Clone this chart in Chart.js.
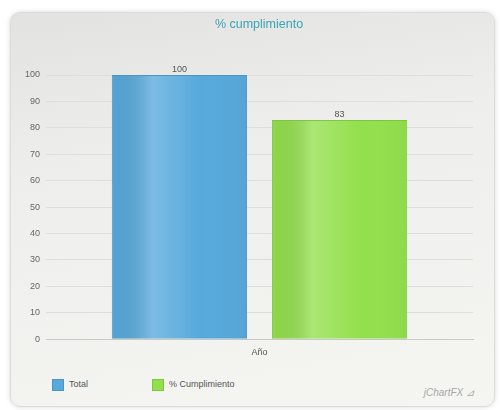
<!DOCTYPE html>
<html>
<head>
<meta charset="utf-8">
<script src="https://cdn.jsdelivr.net/npm/chart.js@4.4.0/dist/chart.umd.min.js"></script>
<style>
  body { margin: 0; background: #fff; font-family: "Liberation Sans", Arial, sans-serif; }
  .card {
    position: absolute; left: 10px; top: 12px; width: 483px; height: 393px;
    border-radius: 10px; border: 1px solid #dcdcda;
    background: linear-gradient(170deg, #e2e2e0 0%, #eeeeec 35%, #f5f5f2 100%);
    box-shadow: 0 0 5px rgba(0,0,0,0.15);
  }
  .plot { position: absolute; left: 0; top: 0; width: 483px; height: 352px; }
  .legend { position: absolute; top: 364px; left: 0; font-size: 9px; color: #555; }
  .legend span.item { position: absolute; white-space: nowrap; line-height: 14px; }
  .legend i { display: inline-block; width: 12px; height: 12px; vertical-align: middle; margin-right: 5px; box-sizing: border-box; }
  .brand { position: absolute; right: 20px; bottom: 8px; font-size: 10px; font-style: italic; color: #a8a8a8; }
</style>
</head>
<body>
<div class="card">
  <div class="plot"><canvas id="chart"></canvas></div>
  <div class="legend" id="legend"></div>
  <div class="brand">jChartFX ⊿</div>
</div>
<script>
const categories = ["Año"];
const seriesNames = ["Total", "% Cumplimiento"];
const totalValues = [100];
const cumplimientoValues = [83];
const yTicks = [0, 10, 20, 30, 40, 50, 60, 70, 80, 90, 100];

const colors = ["#57a9dc", "#93e04d"];
const borders = ["#4b94c4", "#7fc63f"];

// soft vertical highlight + value labels on top of each bar
const barDecor = {
  id: "barDecor",
  afterDatasetsDraw(chart) {
    const ctx = chart.ctx;
    chart.data.datasets.forEach((ds, di) => {
      chart.getDatasetMeta(di).data.forEach((bar, i) => {
        const left = bar.x - bar.width / 2, right = bar.x + bar.width / 2;
        const g = ctx.createLinearGradient(left, 0, right, 0);
        g.addColorStop(0, "rgba(0,0,0,0.03)");
        g.addColorStop(0.3, "rgba(255,255,255,0.22)");
        g.addColorStop(0.65, "rgba(255,255,255,0.0)");
        g.addColorStop(1, "rgba(0,0,0,0.03)");
        ctx.save();
        ctx.fillStyle = g;
        ctx.fillRect(left + 1, bar.y + 1, bar.width - 2, bar.base - bar.y - 1);
        ctx.fillStyle = "#555";
        ctx.font = "9px 'Liberation Sans', Arial, sans-serif";
        ctx.textAlign = "center";
        ctx.textBaseline = "bottom";
        ctx.fillText(ds.data[i], bar.x, bar.y - 1);
        ctx.restore();
      });
    });
  }
};

const chart = new Chart(document.getElementById("chart"), {
  type: "bar",
  data: {
    labels: categories,
    datasets: [
      { label: seriesNames[0], data: totalValues, backgroundColor: colors[0], borderColor: borders[0], borderWidth: 1 },
      { label: seriesNames[1], data: cumplimientoValues, backgroundColor: colors[1], borderColor: borders[1], borderWidth: 1 }
    ]
  },
  options: {
    responsive: true,
    maintainAspectRatio: false,
    animation: false,
    // uneven padding keeps the title centred where the original has it; an empty right axis closes the plot
    layout: { padding: { left: 13, right: 0, top: 0, bottom: 7 } },
    categoryPercentage: 0.75,
    barPercentage: 0.845,
    plugins: {
      legend: { display: false },
      tooltip: { enabled: false },
      title: {
        display: true,
        text: "% cumplimiento",
        color: "#3aa3b8",
        font: { family: "'Liberation Sans', Arial, sans-serif", size: 12.5, weight: "normal" },
        padding: { top: 4, bottom: 43 }
      }
    },
    scales: {
      x: {
        grid: { display: false },
        border: { display: true, color: "#c8c8c6" },
        ticks: { color: "#555", font: { family: "'Liberation Sans', Arial, sans-serif", size: 9 }, padding: 0 }
      },
      y: {
        min: 0,
        max: 100,
        afterBuildTicks: axis => { axis.ticks = yTicks.map(v => ({ value: v })); },
        afterFit: axis => { axis.width = 22; },
        grid: { color: "#dededc", drawTicks: false },
        border: { display: false },
        ticks: { color: "#666", font: { family: "'Liberation Sans', Arial, sans-serif", size: 9 }, padding: 6 }
      },
      y2: {
        position: "right",
        min: 0,
        max: 100,
        afterFit: axis => { axis.width = 21; },
        grid: { display: false },
        border: { display: false },
        ticks: { display: false }
      }
    }
  },
  plugins: [barDecor]
});

// legend below the plot
const legend = document.getElementById("legend");
const legendX = [41, 141];
chart.data.datasets.forEach((ds, i) => {
  const item = document.createElement("span");
  item.className = "item";
  item.style.left = legendX[i] + "px";
  item.innerHTML = `<i style="background:${ds.backgroundColor};border:1px solid ${ds.borderColor}"></i>${ds.label}`;
  legend.appendChild(item);
});
</script>
</body>
</html>
